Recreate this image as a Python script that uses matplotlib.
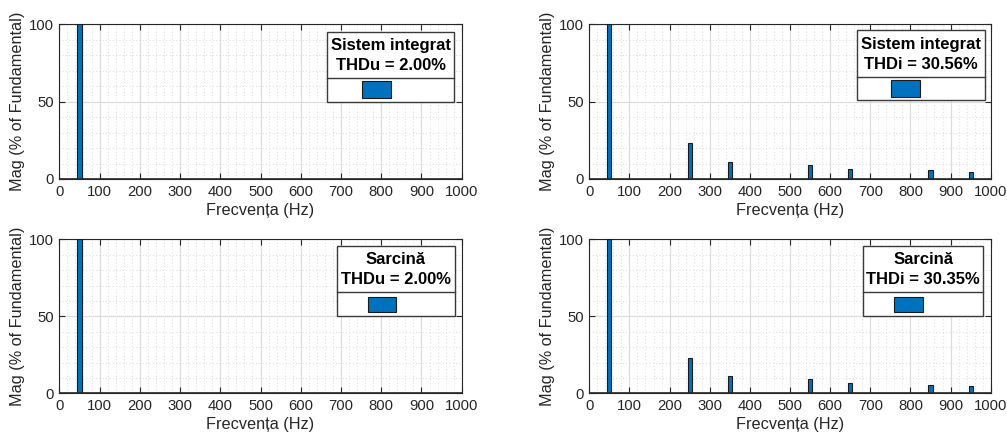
import matplotlib.pyplot as plt
from matplotlib.patches import Rectangle
from matplotlib.ticker import MultipleLocator

plt.rcParams['font.family'] = ['Liberation Sans', 'DejaVu Sans']

# date (% din fundamentala)
frecvente = [50, 250, 350, 550, 650, 850, 950]
u_sistem = [100, 0, 0, 0, 0, 0, 0]
i_sistem = [100, 23.1, 10.8, 9.3, 6.2, 5.6, 4.3]
u_sarcina = [100, 0, 0, 0, 0, 0, 0]
i_sarcina = [100, 22.7, 11.3, 9.1, 6.5, 5.6, 4.8]

titluri = ['Sistem integrat', 'Sistem integrat', 'Sarcină', 'Sarcină']
thd_text = ['THDu = 2.00%', 'THDi = 30.56%', 'THDu = 2.00%', 'THDi = 30.35%']

albastru = '#0072BD'
gri = '#262626'

fig = plt.figure(figsize=(10.07, 4.37), dpi=100)

pozitii = [
    [0.0589, 0.5904, 0.3996, 0.354],
    [0.5852, 0.5904, 0.3986, 0.354],
    [0.0589, 0.1000, 0.3996, 0.3524],
    [0.5852, 0.1000, 0.3986, 0.3524],
]
# cutia legendei: x0, x1, jos, separator, sus, patch x0, patch x1, patch jos, patch sus
cutii = [
    [0.666, 0.981, 0.500, 0.655, 0.952, 0.752, 0.824, 0.524, 0.633],
    [0.666, 0.986, 0.511, 0.661, 0.963, 0.752, 0.824, 0.530, 0.640],
    [0.689, 0.983, 0.502, 0.658, 0.958, 0.766, 0.836, 0.528, 0.627],
    [0.681, 0.982, 0.502, 0.658, 0.958, 0.759, 0.831, 0.528, 0.627],
]
serii = [u_sistem, i_sistem, u_sarcina, i_sarcina]

for k in range(4):
    ax = fig.add_axes(pozitii[k])
    ax.bar(frecvente, serii[k], width=10.5, color=albastru, edgecolor='#1a1a1a',
           linewidth=0.8, zorder=3)
    ax.axhline(0, color=gri, lw=1.2, zorder=4)
    ax.set_xlim(0, 1000)
    ax.set_ylim(0, 100)
    ax.xaxis.set_major_locator(MultipleLocator(100))
    ax.xaxis.set_minor_locator(MultipleLocator(20))
    ax.yaxis.set_major_locator(MultipleLocator(50))
    ax.yaxis.set_minor_locator(MultipleLocator(10))
    ax.grid(which='major', color='#dcdcdc', lw=0.9, zorder=0)
    ax.grid(which='minor', color='#d0d0d0', lw=0.6, ls=(0, (1, 3)), zorder=0)
    ax.set_axisbelow(True)
    ax.tick_params(which='major', direction='in', length=4, width=0.8,
                   top=True, right=True, colors=gri, labelsize=10.7, pad=4)
    ax.tick_params(which='minor', length=0)
    for s in ax.spines.values():
        s.set_color(gri)
        s.set_linewidth(0.8)
    ax.set_xlabel('Frecvența (Hz)', fontsize=11.7, color=gri, labelpad=3)
    ax.set_ylabel('Mag (% of Fundamental)', fontsize=11.7, color=gri, labelpad=3)

    c = cutii[k]
    ax.add_patch(Rectangle((c[0], c[2]), c[1] - c[0], c[4] - c[2], transform=ax.transAxes,
                           facecolor='white', edgecolor='#3a3a3a', lw=1.0, zorder=10))
    ax.plot([c[0], c[1]], [c[3], c[3]], transform=ax.transAxes, color='#3a3a3a',
            lw=1.0, zorder=11)
    xm = (c[0] + c[1]) / 2
    hsus = c[4] - c[3]
    ax.text(xm, c[4] - hsus * 0.3, titluri[k], transform=ax.transAxes, ha='center',
            va='center', fontsize=12, fontweight='bold', color='black', zorder=12)
    ax.text(xm, c[4] - hsus * 0.73, thd_text[k], transform=ax.transAxes, ha='center',
            va='center', fontsize=12, fontweight='bold', color='black', zorder=12)
    ax.add_patch(Rectangle((c[5], c[7]), c[6] - c[5], c[8] - c[7], transform=ax.transAxes,
                           facecolor=albastru, edgecolor='#1a1a1a', lw=0.8, zorder=12))

fig.savefig('out.png', dpi=100)
